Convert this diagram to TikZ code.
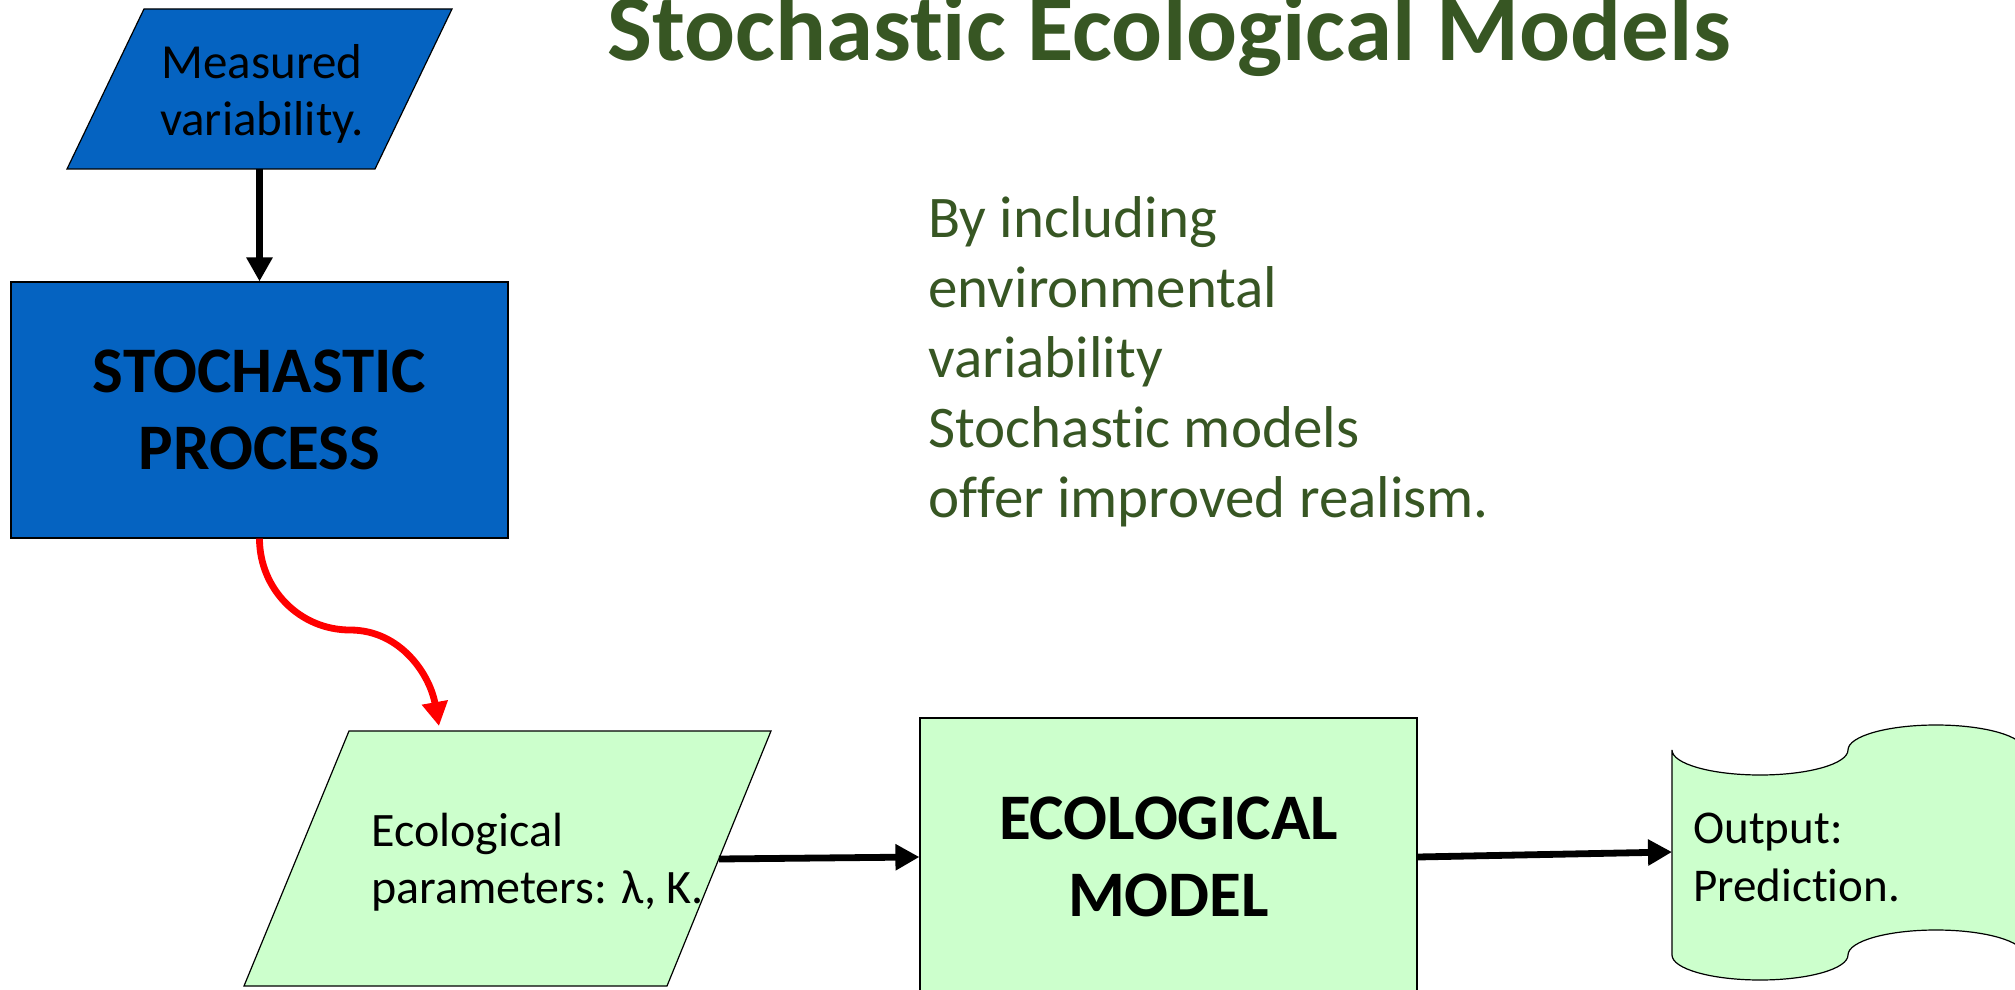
\documentclass[tikz,border=0pt]{standalone}
\usepackage{fontspec}
\setmainfont{Carlito}
\usetikzlibrary{arrows.meta}
\definecolor{procblue}{HTML}{0563C1}
\definecolor{ecogreen}{HTML}{CCFFCC}
\definecolor{titlegreen}{HTML}{375623}
\newcommand\nolig{\kern0pt}
\tikzset{
  blockline/.style={draw=black,line width=0.6pt},
  flowarrow/.style={line width=3.4pt,-{Triangle[width=12.5pt,length=12pt]}},
  smalltxt/.style={inner sep=0pt,font=\fontsize{24}{28.5}\selectfont},
  bigtxt/.style={inner sep=0pt,align=center,font=\bfseries\fontsize{32.5}{38.5}\selectfont},
}
\begin{document}
\begin{tikzpicture}[x=0.5pt,y=-0.5pt]
  \useasboundingbox (0,0) rectangle (2015,990);
  \node[anchor=base,inner sep=0pt,text=titlegreen,
    font=\bfseries\fontsize{47.5}{56}\selectfont] (title) at (1169,61)
    {Stochast\nolig ic Ecological Models};
  \filldraw[blockline,fill=procblue] (144,9)--(452,9)--(375,169)--(67,169)--cycle;
  \node[smalltxt,align=center,font=\fontsize{24.5}{28.5}\selectfont] (msrd) at (262,94)
    {Measured\\variability.};
  \coordinate (msrd-s) at (259.5,169);
  \node[blockline,fill=procblue,minimum width=248.5pt,minimum height=128pt,bigtxt]
    (stoch) at (259.5,410) {STOCHASTIC\\PROCESS};
  \filldraw[blockline,fill=ecogreen] (349,731)--(771,731)--(667,986)--(244,986)--cycle;
  \node[smalltxt,align=left,anchor=west] (parm) at (371,862)
    {Ecological\\parameters: λ, K.};
  \coordinate (parm-n) at (439,726);
  \coordinate (parm-e) at (719,859);
  \coordinate (bend) at (350,630);
  \node[blockline,fill=ecogreen,minimum width=248.5pt,minimum height=139pt,bigtxt]
    (eco) at (1168.5,857) {ECOLOGICAL\\MODEL};
  \filldraw[blockline,fill=ecogreen] (1672,750)
    arc[start angle=180,end angle=0,x radius=88,y radius=25]
    arc[start angle=180,end angle=360,x radius=88,y radius=25]
    -- (2024,955)
    arc[start angle=0,end angle=-180,x radius=88,y radius=25]
    arc[start angle=0,end angle=180,x radius=88,y radius=25]
    -- cycle;
  \node[smalltxt,align=left,anchor=west,font=\fontsize{23.5}{29}\selectfont] (outp)
    at (1693,857) {Output:\\Predict\nolig ion.};
  \coordinate (outp-w) at (1672,852);
  \node[inner sep=0pt,anchor=north west,align=left,text=titlegreen,
    font=\fontsize{29.5}{35}\selectfont] (note) at (928,196)
    {By including\\environmental\\variability\\Stochast\nolig ic models\\of\nolig fer improved realism.};
  \draw[flowarrow] (msrd-s) -- (stoch.north);
  \draw[flowarrow,red] (stoch.south) to[out=-90,in=180] (bend)
    to[out=0,in=100] (parm-n);
  \draw[flowarrow] (parm-e) -- (eco.west);
  \draw[flowarrow] (eco.east) -- (outp-w);
\end{tikzpicture}
\end{document}
